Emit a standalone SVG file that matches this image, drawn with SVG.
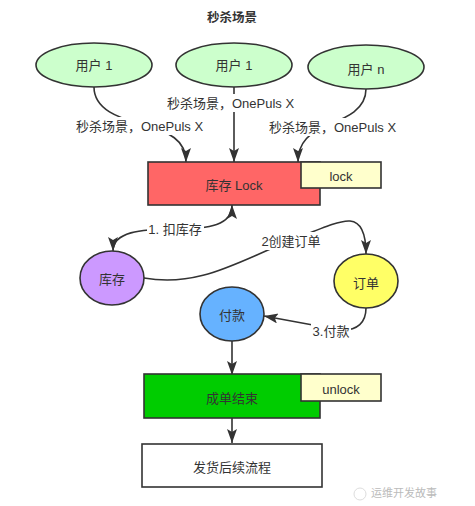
<svg xmlns="http://www.w3.org/2000/svg" width="475" height="506" viewBox="0 0 475 506">
<defs>
<marker id="ah" viewBox="0 0 14 10" refX="14" refY="5" markerWidth="14" markerHeight="10" markerUnits="userSpaceOnUse" orient="auto-start-reverse">
<path d="M0,0 L14,5 L0,10 L3,5 z" fill="#333"/>
</marker>
</defs>
<style>
text{font-family:"Liberation Sans","Noto Sans CJK SC",sans-serif;font-size:13px;fill:#333;text-anchor:middle;dominant-baseline:central}
.n{stroke:#333;stroke-width:1.6}
.c{fill:none;stroke:#333;stroke-width:1.6;marker-end:url(#ah)}
.lbl{fill:#fff;stroke:none}
</style>
<rect width="475" height="506" fill="#fff"/>
<text x="232" y="18" style="font-weight:bold;font-size:12.5px">秒杀场景</text>
<g id="connectors">
<path class="c" d="M94,87 C94,110 120,118 140,124 C170,132 186,140 186,162"/>
<path class="c" d="M234,87 L234,162"/>
<path class="c" d="M366,89 C366,110 345,118 330,124 C310,132 298,142 298,162"/>
<path class="c" style="marker-start:url(#ah)" d="M113,251 C113,232 140,229 175,229 C210,229 232,225 232,205"/>
<path class="c" d="M144,278 C200,288 240,260 290,241 C320,229 340,220 350,221 C362,222 366,235 366,254"/>
<path class="c" d="M366,308 C366,322 358,331 340,330 L264,316"/>
<path class="c" d="M232,341 L232,375"/>
<path class="c" d="M232,418 L232,443"/>
<g>
<rect class="lbl" x="75" y="117" width="129" height="18"/>
<text x="139.5" y="126">秒杀场景，OnePuls X</text>
<rect class="lbl" x="166" y="94" width="129" height="18"/>
<text x="230.5" y="103">秒杀场景，OnePuls X</text>
<rect class="lbl" x="268" y="118" width="129" height="18"/>
<text x="332.5" y="127">秒杀场景，OnePuls X</text>
<rect class="lbl" x="147" y="220" width="57" height="18"/>
<text x="175" y="229">1. 扣库存</text>
<rect class="lbl" x="259" y="232" width="64" height="18"/>
<text x="291" y="241">2创建订单</text>
<rect class="lbl" x="311" y="322" width="40" height="18"/>
<text x="331" y="331">3.付款</text>
</g>
</g>
<g id="user1"><ellipse class="n" cx="94" cy="65" rx="58" ry="22" fill="#ccffcc"/><text x="94" y="65">用户 1</text></g>
<g id="user2"><ellipse class="n" cx="234" cy="65" rx="58" ry="22" fill="#ccffcc"/><text x="234" y="65">用户 1</text></g>
<g id="usern"><ellipse class="n" cx="366" cy="67" rx="58" ry="22" fill="#ccffcc"/><text x="366" y="69">用户 n</text></g>
<g id="lockbox"><rect class="n" x="148" y="162" width="172" height="43" fill="#ff6666"/><text x="234" y="185">库存 Lock</text></g>
<g id="lock"><rect class="n" x="301" y="162" width="80" height="26" fill="#ffffcc"/><text x="341" y="176">lock</text></g>
<g id="kucun"><ellipse class="n" cx="112" cy="278" rx="32" ry="27" fill="#cc99ff"/><text x="112" y="279">库存</text></g>
<g id="dingdan"><ellipse class="n" cx="366" cy="281" rx="32" ry="27" fill="#ffff66"/><text x="366" y="283">订单</text></g>
<g id="fukuan"><ellipse class="n" cx="232" cy="314" rx="32" ry="27" fill="#66b2ff"/><text x="232" y="315">付款</text></g>
<g id="done"><rect class="n" x="144" y="374" width="176" height="44" fill="#00cc00"/><text x="232" y="398">成单结束</text></g>
<g id="unlock"><rect class="n" x="301" y="374" width="80" height="27" fill="#ffffcc"/><text x="341" y="389">unlock</text></g>
<g id="ship"><rect class="n" x="142" y="444" width="180" height="43" fill="#fff"/><text x="232" y="467">发货后续流程</text></g>
<g id="watermark"><circle cx="360" cy="494" r="6" fill="none" stroke="#ddd" stroke-width="1"/><text x="404" y="493" style="font-size:11px;fill:#bbb">运维开发故事</text></g>
</svg>
